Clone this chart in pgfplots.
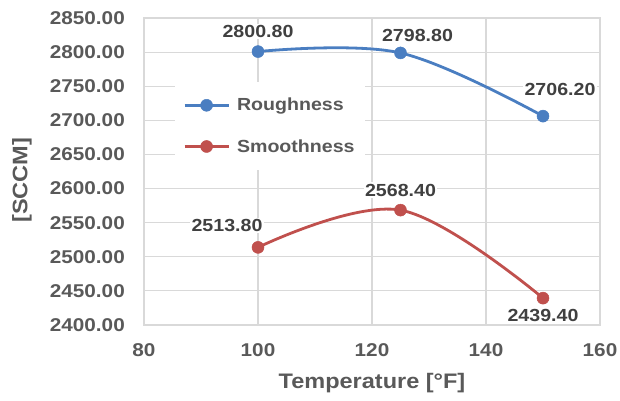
\documentclass[border=0pt]{standalone}
\usepackage{fontspec}
\setmainfont{Liberation Sans}[FakeStretch=1.12]
\usepackage{pgfplots}
\usepackage{pgfplotstable}
\pgfplotsset{compat=1.18}
\definecolor{gridc}{HTML}{D9D9D9}
\definecolor{txt}{HTML}{595959}
\definecolor{lbl}{HTML}{404040}
\definecolor{blueS}{HTML}{4A7EC1}
\definecolor{redS}{HTML}{C0504D}
\pgfplotstableread{
x y lab dx dy
100 2800.8 2800.80 0 20
125 2798.8 2798.80 17 17
150 2706.2 2706.20 17 27
}\rough
\pgfplotstableread{
x y lab dx dy
100 2513.8 2513.80 -31 22
125 2568.4 2568.40 0 20
150 2439.4 2439.40 0 -17
}\smooth
\begin{document}
\begin{tikzpicture}
\useasboundingbox (0,0) rectangle (620pt,400pt);
\begin{axis}[
  at={(144pt,75pt)}, anchor=south west,
  scale only axis, width=456pt, height=307pt,
  xmin=80, xmax=160, ymin=2400, ymax=2850,
  xtick={80,100,...,160}, ytick={2400,2450,...,2850},
  grid=major, major grid style={gridc, line width=1.2pt},
  axis line style={gridc, line width=1.2pt},
  major tick length=0pt,
  /pgf/number format/assume math mode=true,
  tick label style={font=\fontsize{18.5}{20}\selectfont\bfseries, text=txt, inner sep=0pt},
  x tick label style={yshift=-18pt, /pgf/number format/1000 sep={}},
  y tick label style={xshift=-19pt, /pgf/number format/.cd, fixed, fixed zerofill, precision=2, 1000 sep={}},
  xlabel={Temperature [°F]},
  ylabel={[SCCM]},
  label style={font=\fontsize{21}{23}\selectfont\bfseries, text=txt},
  xlabel style={at={(axis description cs:0.5,-0.19)}, anchor=center},
  ylabel style={at={(axis description cs:-0.2675,0.472)}, anchor=center},
  legend style={at={(0.068,0.7915)}, anchor=north west, draw=none, fill=white,
    font=\fontsize{17.5}{19}\selectfont\bfseries, text=txt, row sep=23pt,
    inner xsep=8pt, inner ysep=14pt},
  legend cell align=left,
  legend image code/.code={\draw[mark repeat=2, mark phase=2] plot coordinates {(0pt,0pt) (22pt,0pt) (44pt,0pt)};
    \path (49pt,0pt);},
  every node near coord/.append style={anchor=center, xshift=\dx pt, yshift=\dy pt,
    fill=white, inner sep=1.5pt, font=\fontsize{17.5}{19}\selectfont\bfseries, text=lbl},
]
\addplot[blueS, line width=2.8pt, smooth, tension=0.6, mark=*, mark size=6pt,
  mark options={solid, line width=0.5pt},
  nodes near coords, point meta=explicit symbolic,
  visualization depends on={\thisrow{dx} \as \dx},
  visualization depends on={\thisrow{dy} \as \dy}]
  table[x=x, y=y, meta=lab] {\rough};
\addlegendentry{Roughness}
\addplot[redS, line width=2.8pt, smooth, tension=0.6, mark=*, mark size=6pt,
  mark options={solid, line width=0.5pt},
  nodes near coords, point meta=explicit symbolic,
  visualization depends on={\thisrow{dx} \as \dx},
  visualization depends on={\thisrow{dy} \as \dy}]
  table[x=x, y=y, meta=lab] {\smooth};
\addlegendentry{Smoothness}
\end{axis}
\end{tikzpicture}
\end{document}
